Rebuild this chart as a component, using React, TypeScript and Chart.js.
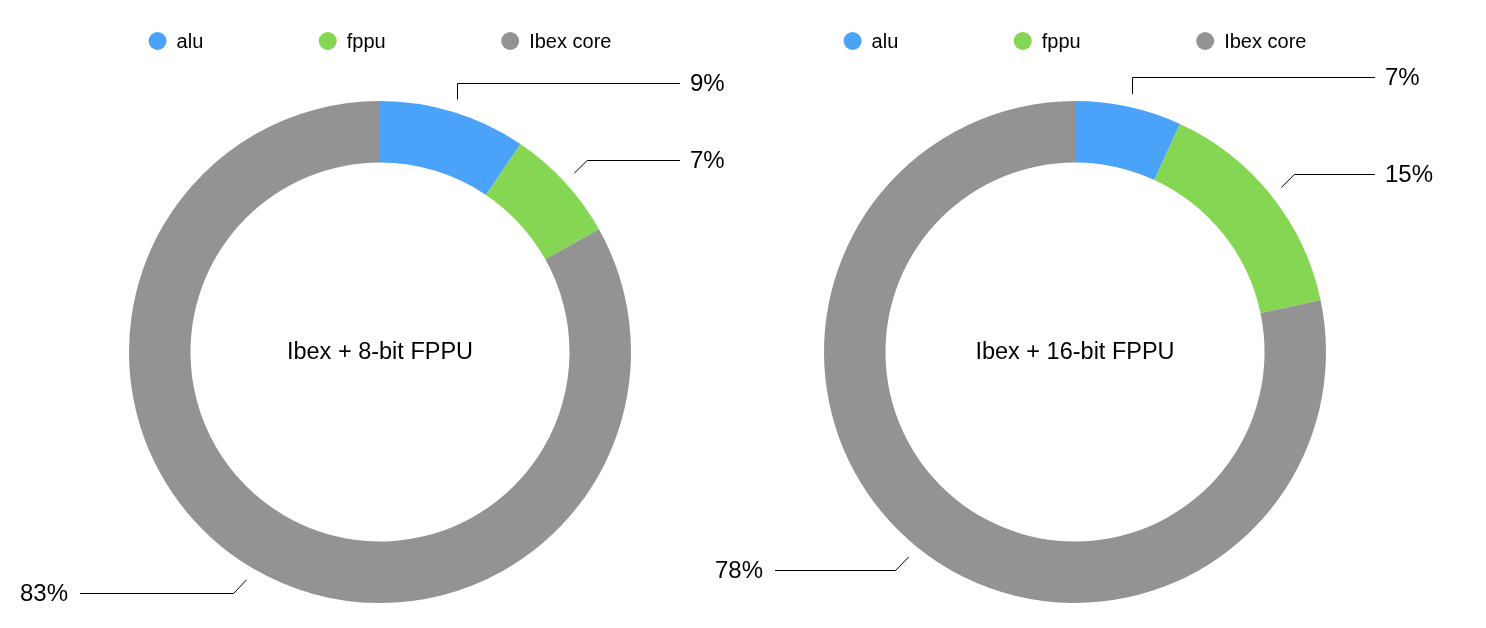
import React, { useEffect, useRef } from "react";
import { Chart, registerables } from "chart.js";

Chart.register(...registerables);

// ---- data ----
const categories = ["alu", "fppu", "Ibex core"];
const colors = ["#4aa3f8", "#84d653", "#939393"];
const titles = ["Ibex + 8-bit FPPU", "Ibex + 16-bit FPPU"];
const values8bit = [9.45, 7.42, 83.13];
const values16bit = [6.87, 14.83, 78.3];

const FONT = '"Liberation Sans", Arial, Helvetica, sans-serif';

const overlayPlugin = {
  id: "overlay",
  afterDraw(chart: any, _args: any, opts: any) {
    const ctx = chart.ctx as CanvasRenderingContext2D;
    const meta = chart.getDatasetMeta(0);
    const arcs = meta.data as any[];
    if (!arcs.length) return;
    const cx = arcs[0].x;
    const cy = arcs[0].y;
    const data = chart.data.datasets[0].data as number[];
    const total = data.reduce((a, b) => a + b, 0);
    const labels = chart.data.labels as string[];
    const cols = chart.data.datasets[0].backgroundColor as string[];
    ctx.save();

    // centre title
    ctx.fillStyle = "#000";
    ctx.font = `23.5px ${FONT}`;
    ctx.textAlign = "center";
    ctx.textBaseline = "middle";
    ctx.fillText(opts.title, cx, cy + 1);

    // legend row
    ctx.font = `20px ${FONT}`;
    const dot = 18;
    const gap = 10;
    const spacing = 115.5;
    const widths = labels.map((l) => dot + gap + ctx.measureText(l).width);
    const totalW = widths.reduce((a, b) => a + b, 0) + spacing * (labels.length - 1);
    let x = cx - totalW / 2;
    const ly = 41;
    labels.forEach((l, i) => {
      ctx.fillStyle = cols[i];
      ctx.beginPath();
      ctx.arc(x + dot / 2, ly, dot / 2, 0, Math.PI * 2);
      ctx.fill();
      ctx.fillStyle = "#000";
      ctx.textAlign = "left";
      ctx.fillText(l, x + dot + gap, ly + 1);
      x += widths[i] + spacing;
    });

    // leader lines + percentage labels
    ctx.font = `24px ${FONT}`;
    ctx.strokeStyle = "#000";
    ctx.lineWidth = 1;
    arcs.forEach((arc, i) => {
      const { startAngle, endAngle, outerRadius } = arc.getProps(
        ["startAngle", "endAngle", "outerRadius"],
        true
      );
      const mid = (startAngle + endAngle) / 2;
      const r = outerRadius + 13;
      let sx = cx + Math.cos(mid) * r;
      let sy = cy + Math.sin(mid) * r;
      const right = Math.cos(mid) >= 0;
      const up = Math.sin(mid) < 0;
      const fromTop = Math.acos(Math.max(-1, Math.min(1, -Math.sin(mid))));
      let ex: number;
      let ey: number;
      if (fromTop < (25 * Math.PI) / 180) {
        sx = Math.round(sx) + 0.5;
        ex = sx;
        ey = sy - 17;
      } else {
        ex = sx + (right ? 13 : -13);
        ey = sy + (up ? -13 : 13);
      }
      ey = Math.round(ey) + 0.5;
      const hx = cx + (right ? 300 : -300);
      ctx.beginPath();
      ctx.moveTo(sx, sy);
      ctx.lineTo(ex, ey);
      ctx.lineTo(hx, ey);
      ctx.stroke();
      ctx.fillStyle = "#000";
      ctx.textAlign = right ? "left" : "right";
      ctx.textBaseline = "middle";
      ctx.fillText(Math.round((data[i] / total) * 100) + "%", hx + (right ? 10 : -12), ey + 1);
    });

    ctx.restore();
  },
};

function Donut({
  values,
  title,
  padding,
  left,
  width,
}: {
  values: number[];
  title: string;
  padding: any;
  left: number;
  width: number;
}) {
  const ref = useRef<HTMLCanvasElement | null>(null);
  useEffect(() => {
    if (!ref.current) return;
    const chart = new Chart(ref.current, {
      type: "doughnut",
      data: {
        labels: categories,
        datasets: [
          {
            data: values,
            backgroundColor: colors,
            borderWidth: 0,
          },
        ],
      },
      options: {
        responsive: false,
        animation: false,
        cutout: "75.5%",
        layout: { padding },
        plugins: {
          legend: { display: false },
          tooltip: { enabled: false },
          overlay: { title },
        } as any,
      },
      plugins: [overlayPlugin as any],
    });
    return () => chart.destroy();
  }, []);
  return (
    <canvas
      ref={ref}
      width={width}
      height={628}
      style={{ position: "absolute", top: 0, left, display: "block", width, height: 628 }}
    />
  );
}

export default function App() {
  return (
    <div
      style={{
        position: "absolute",
        left: 0,
        top: 0,
        width: 1486,
        height: 628,
        background: "#fff",
      }}
    >
      <Donut
        values={values8bit}
        title={titles[0]}
        left={0}
        width={743}
        padding={{ left: 129, right: 112, top: 101, bottom: 25 }}
      />
      <Donut
        values={values16bit}
        title={titles[1]}
        left={693}
        width={793}
        padding={{ left: 131, right: 160, top: 101, bottom: 25 }}
      />
    </div>
  );
}
